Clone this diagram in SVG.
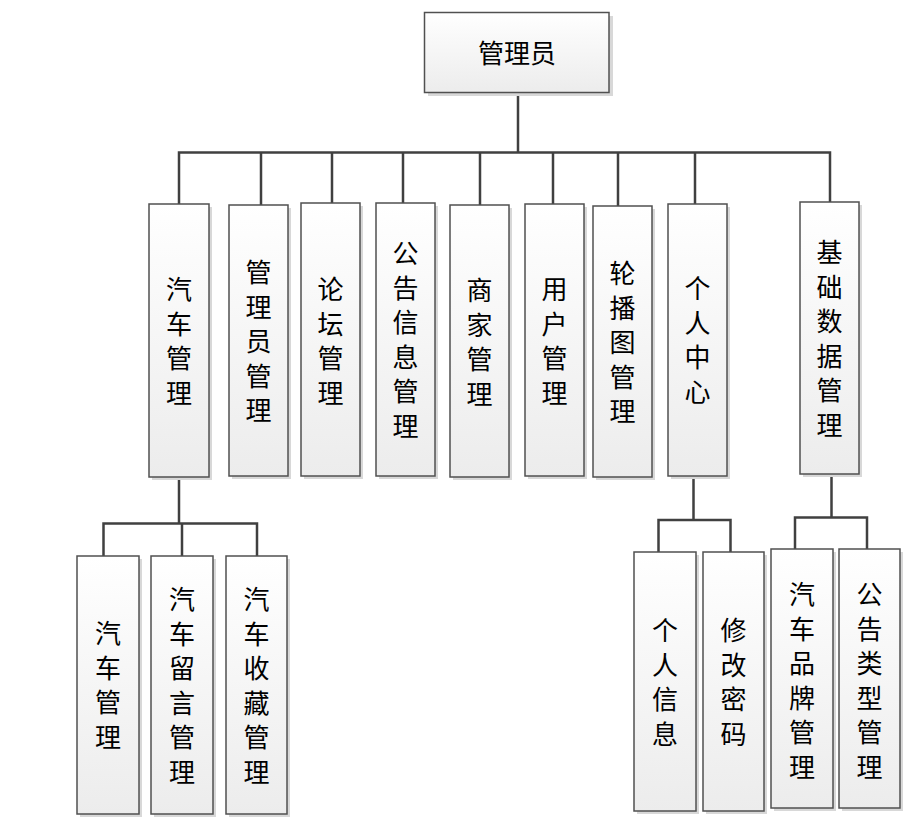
<svg xmlns="http://www.w3.org/2000/svg" width="913" height="829" viewBox="0 0 913 829">
<style>
.bx{fill:url(#g);stroke:#505050;stroke-width:1.5}
.sh{fill:#d8d8d8}
.t{font-family:"Noto Sans CJK SC","Noto Sans",sans-serif;font-size:26px;fill:#000;text-anchor:middle;dominant-baseline:central}
.c{fill:none;stroke:#404040;stroke-width:2.5}
</style>
<defs>
<linearGradient id="g" x1="0" y1="0" x2="0" y2="1">
<stop offset="0" stop-color="#ffffff"/>
<stop offset="1" stop-color="#ececec"/>
</linearGradient>
</defs>
<rect width="913" height="829" fill="#fff"/>
<g id="connectors">
<path class="c" d="M518,93V152.5M179,204V152.5H830V202M261,152.5V205M332,152.5V203M403,152.5V203M480,152.5V205M553,152.5V204M618,152.5V206M695,152.5V204"/>
<path class="c" d="M179,477V523.5M103.5,556V523.5H257V556M182,523.5V556"/>
<path class="c" d="M693.5,476V520M658.5,552V520H730.5V552"/>
<path class="c" d="M831.5,474V517.5M795,549V517.5H867V549"/>
</g>
<g id="n0"><rect class="sh" x="428" y="16" width="185" height="80"/><rect class="bx" x="424.5" y="12.5" width="184.5" height="80"/><text class="t" x="517" y="51">管理员</text></g>
<g id="n1"><rect class="sh" x="152" y="207" width="60" height="273"/><rect class="bx" x="149" y="204" width="60" height="273"/><text class="t" x="179"><tspan x="179" y="287">汽</tspan><tspan x="179" dy="34.5">车</tspan><tspan x="179" dy="34.5">管</tspan><tspan x="179" dy="34.5">理</tspan></text></g>
<g id="n2"><rect class="sh" x="232" y="208" width="59" height="271"/><rect class="bx" x="229" y="205" width="59" height="271"/><text class="t"><tspan x="258.5" y="270">管</tspan><tspan x="258.5" dy="34.5">理</tspan><tspan x="258.5" dy="34.5">员</tspan><tspan x="258.5" dy="34.5">管</tspan><tspan x="258.5" dy="34.5">理</tspan></text></g>
<g id="n3"><rect class="sh" x="304" y="206" width="59" height="273"/><rect class="bx" x="301" y="203" width="59" height="273"/><text class="t"><tspan x="330.5" y="287">论</tspan><tspan x="330.5" dy="34.5">坛</tspan><tspan x="330.5" dy="34.5">管</tspan><tspan x="330.5" dy="34.5">理</tspan></text></g>
<g id="n4"><rect class="sh" x="379" y="206" width="59" height="273"/><rect class="bx" x="376" y="203" width="59" height="273"/><text class="t"><tspan x="405.5" y="251">公</tspan><tspan x="405.5" dy="34.5">告</tspan><tspan x="405.5" dy="34.5">信</tspan><tspan x="405.5" dy="34.5">息</tspan><tspan x="405.5" dy="34.5">管</tspan><tspan x="405.5" dy="34.5">理</tspan></text></g>
<g id="n5"><rect class="sh" x="453" y="208" width="59" height="272"/><rect class="bx" x="450" y="205" width="59" height="272"/><text class="t"><tspan x="479.5" y="288">商</tspan><tspan x="479.5" dy="34.5">家</tspan><tspan x="479.5" dy="34.5">管</tspan><tspan x="479.5" dy="34.5">理</tspan></text></g>
<g id="n6"><rect class="sh" x="528" y="207" width="59" height="272"/><rect class="bx" x="525" y="204" width="59" height="272"/><text class="t"><tspan x="554.5" y="287">用</tspan><tspan x="554.5" dy="34.5">户</tspan><tspan x="554.5" dy="34.5">管</tspan><tspan x="554.5" dy="34.5">理</tspan></text></g>
<g id="n7"><rect class="sh" x="596" y="209" width="59" height="271"/><rect class="bx" x="593" y="206" width="59" height="271"/><text class="t"><tspan x="622.5" y="271">轮</tspan><tspan x="622.5" dy="34.5">播</tspan><tspan x="622.5" dy="34.5">图</tspan><tspan x="622.5" dy="34.5">管</tspan><tspan x="622.5" dy="34.5">理</tspan></text></g>
<g id="n8"><rect class="sh" x="671" y="207" width="59" height="272"/><rect class="bx" x="668" y="204" width="59" height="272"/><text class="t"><tspan x="697.5" y="286">个</tspan><tspan x="697.5" dy="34.5">人</tspan><tspan x="697.5" dy="34.5">中</tspan><tspan x="697.5" dy="34.5">心</tspan></text></g>
<g id="n9"><rect class="sh" x="803" y="205" width="59" height="272"/><rect class="bx" x="800" y="202" width="59" height="272"/><text class="t"><tspan x="829.5" y="250">基</tspan><tspan x="829.5" dy="34.5">础</tspan><tspan x="829.5" dy="34.5">数</tspan><tspan x="829.5" dy="34.5">据</tspan><tspan x="829.5" dy="34.5">管</tspan><tspan x="829.5" dy="34.5">理</tspan></text></g>
<g id="n10"><rect class="sh" x="80" y="559" width="62" height="258"/><rect class="bx" x="77" y="556" width="62" height="258"/><text class="t"><tspan x="108" y="631">汽</tspan><tspan x="108" dy="34.5">车</tspan><tspan x="108" dy="34.5">管</tspan><tspan x="108" dy="34.5">理</tspan></text></g>
<g id="n11"><rect class="sh" x="154" y="559" width="62" height="258"/><rect class="bx" x="151" y="556" width="62" height="258"/><text class="t"><tspan x="182" y="597">汽</tspan><tspan x="182" dy="34.5">车</tspan><tspan x="182" dy="34.5">留</tspan><tspan x="182" dy="34.5">言</tspan><tspan x="182" dy="34.5">管</tspan><tspan x="182" dy="34.5">理</tspan></text></g>
<g id="n12"><rect class="sh" x="229" y="559" width="61" height="258"/><rect class="bx" x="226" y="556" width="61" height="258"/><text class="t"><tspan x="256.5" y="597">汽</tspan><tspan x="256.5" dy="34.5">车</tspan><tspan x="256.5" dy="34.5">收</tspan><tspan x="256.5" dy="34.5">藏</tspan><tspan x="256.5" dy="34.5">管</tspan><tspan x="256.5" dy="34.5">理</tspan></text></g>
<g id="n13"><rect class="sh" x="637" y="555" width="62" height="259"/><rect class="bx" x="634" y="552" width="62" height="259"/><text class="t"><tspan x="665" y="628">个</tspan><tspan x="665" dy="34.5">人</tspan><tspan x="665" dy="34.5">信</tspan><tspan x="665" dy="34.5">息</tspan></text></g>
<g id="n14"><rect class="sh" x="706" y="555" width="61" height="259"/><rect class="bx" x="703" y="552" width="61" height="259"/><text class="t"><tspan x="733.5" y="628">修</tspan><tspan x="733.5" dy="34.5">改</tspan><tspan x="733.5" dy="34.5">密</tspan><tspan x="733.5" dy="34.5">码</tspan></text></g>
<g id="n15"><rect class="sh" x="774" y="552" width="62" height="259"/><rect class="bx" x="771" y="549" width="62" height="259"/><text class="t"><tspan x="802" y="592">汽</tspan><tspan x="802" dy="34.5">车</tspan><tspan x="802" dy="34.5">品</tspan><tspan x="802" dy="34.5">牌</tspan><tspan x="802" dy="34.5">管</tspan><tspan x="802" dy="34.5">理</tspan></text></g>
<g id="n16"><rect class="sh" x="842" y="552" width="61" height="259"/><rect class="bx" x="839" y="549" width="61" height="259"/><text class="t"><tspan x="869.5" y="592">公</tspan><tspan x="869.5" dy="34.5">告</tspan><tspan x="869.5" dy="34.5">类</tspan><tspan x="869.5" dy="34.5">型</tspan><tspan x="869.5" dy="34.5">管</tspan><tspan x="869.5" dy="34.5">理</tspan></text></g>
</svg>
